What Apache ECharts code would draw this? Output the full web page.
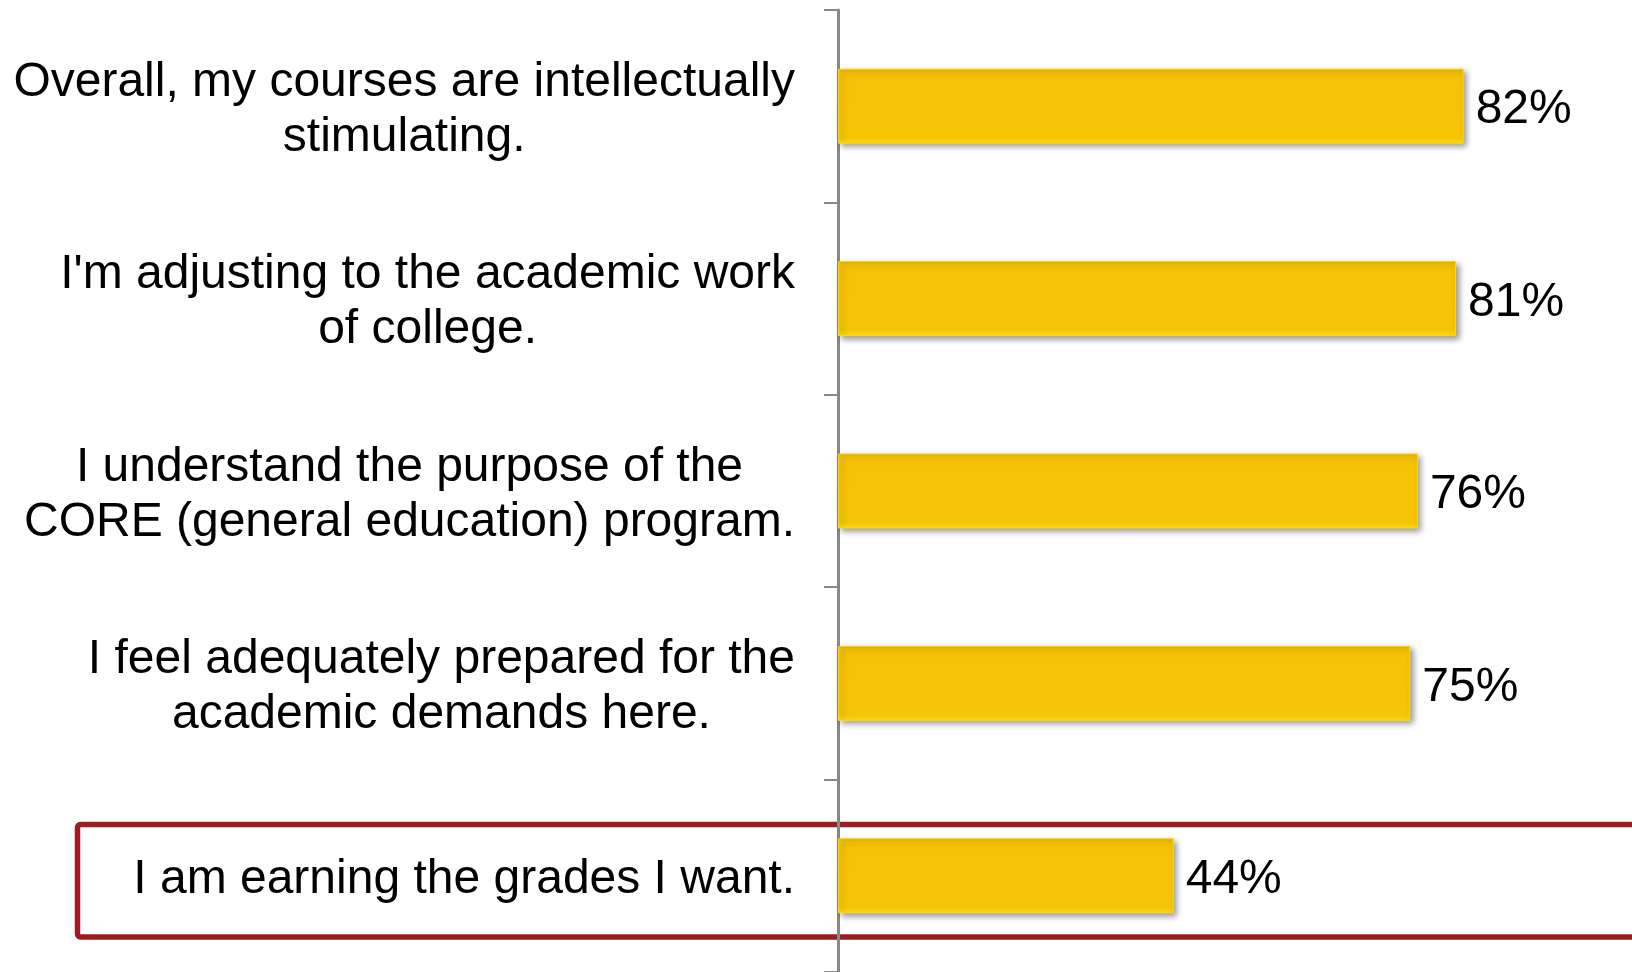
<!DOCTYPE html>
<html>
<head>
<meta charset="utf-8">
<title>Academic experience</title>
<style>
  html, body { margin: 0; padding: 0; background: #fff; }
  #chart { width: 1632px; height: 972px; }
</style>
<script src="https://cdn.jsdelivr.net/npm/echarts@6/dist/echarts.min.js"></script>
</head>
<body>
<div id="chart"></div>
<script>
// categories, top to bottom
var categories = [
  'Overall, my courses are intellectually\nstimulating.',
  "I'm adjusting to the academic work\nof college.",
  'I understand the purpose of the\nCORE (general education) program.',
  'I feel adequately prepared for the\nacademic demands here.',
  'I am earning the grades I want.'
]
// percent agreeing
var values = [82, 81, 76, 75, 44]

var font = "'Liberation Sans', Arial, sans-serif"
var chart = echarts.init(document.getElementById('chart'))

chart.setOption({
  animation: false,
  grid: {
    left: 838,
    top: 10,
    width: 763,
    height: 965
  },
  xAxis: {
    type: 'value',
    min: 0,
    max: 100,
    show: false
  },
  yAxis: {
    type: 'category',
    inverse: true,
    data: categories,
    axisLine: {
      lineStyle: { color: '#888888', width: 3 }
    },
    axisTick: {
      show: true,
      length: 14,
      lineStyle: { color: '#888888', width: 2 }
    },
    axisLabel: {
      align: 'right',
      margin: 43,
      padding: [8, 0, 0, 0],
      color: '#000',
      fontFamily: font,
      fontSize: 48,
      lineHeight: 55,
      formatter: function (val) {
        return '{c|' + val + '}'
      },
      rich: {
        c: {
          align: 'center',
          color: '#000',
          fontFamily: font,
          fontSize: 48,
          lineHeight: 55
        }
      }
    }
  },
  series: [
    {
      type: 'bar',
      data: values,
      barWidth: 75,
      itemStyle: {
        color: new echarts.graphic.LinearGradient(0, 0, 0, 1, [
          { offset: 0, color: '#D2A500' },
          { offset: 0.04, color: '#F6C306' },
          { offset: 0.92, color: '#F6C506' },
          { offset: 1, color: '#FFE01A' }
        ]),
        borderColor: '#FFD90F',
        borderWidth: 1,
        shadowColor: 'rgba(0, 0, 0, 0.4)',
        shadowBlur: 6,
        shadowOffsetX: 3,
        shadowOffsetY: 3
      },
      label: {
        show: true,
        position: 'right',
        distance: 12,
        offset: [0, 4],
        formatter: '{c}%',
        color: '#000',
        fontFamily: font,
        fontSize: 48
      }
    }
  ],
  graphic: [
    {
      type: 'rect',
      z: -1,
      shape: { x: 77.5, y: 824.5, width: 1600, height: 112.5, r: 3 },
      style: { fill: 'none', stroke: '#9B1C23', lineWidth: 5.5 }
    }
  ]
})
</script>
</body>
</html>
